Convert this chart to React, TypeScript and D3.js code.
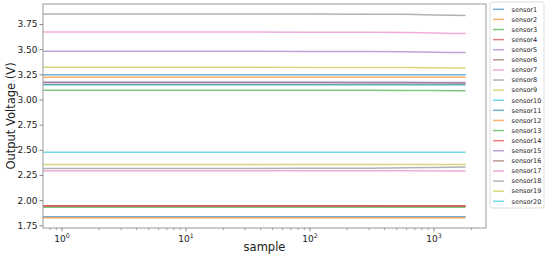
import React, { useRef, useEffect } from "react";
import * as d3 from "d3";

const samples = [0, 1, 3, 10, 30, 100, 300, 600, 1000, 1400, 1800];

const sensorNames = Array.from({ length: 20 }, (_, i) => `sensor${i + 1}`);

const s1 = [1.834, 1.834, 1.834, 1.834, 1.834, 1.834, 1.834, 1.834, 1.835, 1.835, 1.835];
const s2 = [1.824, 1.824, 1.824, 1.824, 1.824, 1.824, 1.825, 1.825, 1.826, 1.826, 1.826];
const s3 = [3.092, 3.092, 3.092, 3.092, 3.092, 3.091, 3.091, 3.090, 3.089, 3.088, 3.088];
const s4 = [1.941, 1.941, 1.941, 1.941, 1.941, 1.941, 1.941, 1.940, 1.940, 1.940, 1.940];
const s5 = [3.479, 3.479, 3.479, 3.479, 3.479, 3.478, 3.477, 3.474, 3.470, 3.467, 3.466];
const s6 = [3.168, 3.168, 3.168, 3.168, 3.168, 3.168, 3.167, 3.167, 3.166, 3.165, 3.165];
const s7 = [3.671, 3.671, 3.671, 3.671, 3.670, 3.669, 3.668, 3.666, 3.660, 3.656, 3.655];
const s8 = [3.850, 3.850, 3.850, 3.850, 3.850, 3.849, 3.848, 3.846, 3.840, 3.836, 3.834];
const s9 = [3.320, 3.320, 3.320, 3.320, 3.320, 3.319, 3.319, 3.318, 3.316, 3.314, 3.314];
const s10 = [2.477, 2.477, 2.477, 2.477, 2.477, 2.477, 2.477, 2.477, 2.477, 2.477, 2.477];
const s11 = [3.247, 3.247, 3.247, 3.247, 3.247, 3.247, 3.246, 3.246, 3.245, 3.245, 3.245];
const s12 = [3.221, 3.221, 3.221, 3.221, 3.221, 3.221, 3.221, 3.222, 3.222, 3.222, 3.222];
const s13 = [1.929, 1.929, 1.929, 1.929, 1.929, 1.929, 1.929, 1.930, 1.930, 1.930, 1.930];
const s14 = [1.944, 1.944, 1.944, 1.944, 1.944, 1.944, 1.944, 1.944, 1.943, 1.943, 1.943];
const s15 = [3.172, 3.172, 3.172, 3.172, 3.172, 3.172, 3.171, 3.171, 3.170, 3.170, 3.170];
const s16 = [3.150, 3.150, 3.150, 3.150, 3.150, 3.150, 3.150, 3.149, 3.149, 3.148, 3.148];
const s17 = [2.292, 2.292, 2.292, 2.292, 2.292, 2.292, 2.292, 2.292, 2.291, 2.290, 2.290];
const s18 = [2.315, 2.315, 2.315, 2.315, 2.315, 2.316, 2.318, 2.321, 2.325, 2.327, 2.328];
const s19 = [2.354, 2.354, 2.354, 2.354, 2.354, 2.354, 2.354, 2.355, 2.355, 2.355, 2.355];
const s20 = [3.147, 3.147, 3.147, 3.147, 3.147, 3.147, 3.147, 3.147, 3.146, 3.146, 3.146];

const series = [s1, s2, s3, s4, s5, s6, s7, s8, s9, s10, s11, s12, s13, s14, s15, s16, s17, s18, s19, s20];

const yTicks = [1.75, 2.0, 2.25, 2.5, 2.75, 3.0, 3.25, 3.5, 3.75];
const xTicks = [1, 10, 100, 1000];

const W = 550, H = 257;
const left = 43, right = 486, top = 4, bottom = 228;

export default function App() {
  const svgRef = useRef<SVGSVGElement>(null);

  useEffect(() => {
    const svg = d3.select(svgRef.current);
    svg.selectAll("*").remove();

    const xscale = d3.scaleLog().domain([0.703, 2627]).range([left, right]).clamp(true);
    const yscale = d3.scaleLinear().domain([1.723, 3.949]).range([bottom, top]);
    const color = d3.scaleOrdinal<number, string>().domain(d3.range(10)).range(d3.schemeCategory10);

    const myLine = d3.line<number>()
      .x((_, i) => xscale(samples[i] === 0 ? 0.703 : samples[i]))
      .y(d => yscale(d));

    const content = svg.append("g");
    series.forEach((vals, i) => {
      content.append("path")
        .attr("d", myLine(vals))
        .attr("fill", "none")
        .attr("stroke", color(i % 10))
        .attr("stroke-opacity", 0.6)
        .attr("stroke-width", 1.5);
    });

    // frame
    svg.append("rect")
      .attr("x", left).attr("y", top)
      .attr("width", right - left).attr("height", bottom - top)
      .attr("fill", "none").attr("stroke", "#999").attr("stroke-width", 1);

    // y axis
    const yaxis = d3.axisLeft(yscale).tickValues(yTicks).tickFormat(d3.format(".2f")).tickSize(3.5).tickPadding(2);
    const yg = svg.append("g").attr("transform", `translate(${left},0)`).call(yaxis);
    yg.select(".domain").remove();
    yg.selectAll("line").attr("stroke", "#888");
    yg.selectAll("text").attr("font-family", "DejaVu Sans").attr("font-size", 9).attr("fill", "#222");

    // x axis (log), minor ticks
    const minor: number[] = [];
    for (let dec = 0.1; dec <= 1000; dec *= 10) {
      for (let k = 2; k <= 9; k++) {
        const v = +(dec * k).toPrecision(3);
        if (v >= 0.703 && v <= 2627) minor.push(v);
      }
    }
    const xg = svg.append("g").attr("transform", `translate(0,${bottom})`);
    xg.selectAll(".minor").data(minor).join("line")
      .attr("x1", d => xscale(d)).attr("x2", d => xscale(d))
      .attr("y1", 0).attr("y2", 2).attr("stroke", "#999");
    xg.selectAll(".major").data(xTicks).join("line")
      .attr("x1", d => xscale(d)).attr("x2", d => xscale(d))
      .attr("y1", 0).attr("y2", 3.5).attr("stroke", "#888");
    const lbl = xg.selectAll(".xl").data(xTicks).join("text")
      .attr("x", d => xscale(d)).attr("y", 14)
      .attr("text-anchor", "middle")
      .attr("font-family", "DejaVu Sans").attr("font-size", 9).attr("fill", "#222");
    lbl.append("tspan").text("10");
    lbl.append("tspan").attr("dy", -4).attr("font-size", 6.3).text(d => String(Math.round(Math.log10(d))));

    // axis labels
    svg.append("text").attr("x", (left + right) / 2).attr("y", 251)
      .attr("text-anchor", "middle").attr("font-family", "DejaVu Sans").attr("font-size", 11.5)
      .attr("fill", "#222").text("sample");
    svg.append("text").attr("transform", `translate(15,${(top + bottom) / 2}) rotate(-90)`)
      .attr("text-anchor", "middle").attr("font-family", "DejaVu Sans").attr("font-size", 11.5)
      .attr("fill", "#222").text("Output Voltage (V)");

    // legend
    const lg = svg.append("g");
    lg.append("rect").attr("x", 490).attr("y", 2).attr("width", 54).attr("height", 206)
      .attr("rx", 2).attr("fill", "white").attr("stroke", "#ddd");
    const row = d3.scaleLinear().domain([0, 19]).range([9.3, 201.3]);
    sensorNames.forEach((name, i) => {
      lg.append("line").attr("x1", 493).attr("x2", 504)
        .attr("y1", row(i)).attr("y2", row(i))
        .attr("stroke", color(i % 10)).attr("stroke-opacity", 0.6).attr("stroke-width", 1.5);
      lg.append("text").attr("x", 511.5).attr("y", row(i)).attr("dy", "0.35em")
        .attr("font-family", "DejaVu Sans").attr("font-size", 6.5).attr("fill", "#222").text(name);
    });
  }, []);

  return (
    <svg ref={svgRef} width={W} height={H} style={{ position: "absolute", left: 0, top: 0, background: "white" }} />
  );
}
